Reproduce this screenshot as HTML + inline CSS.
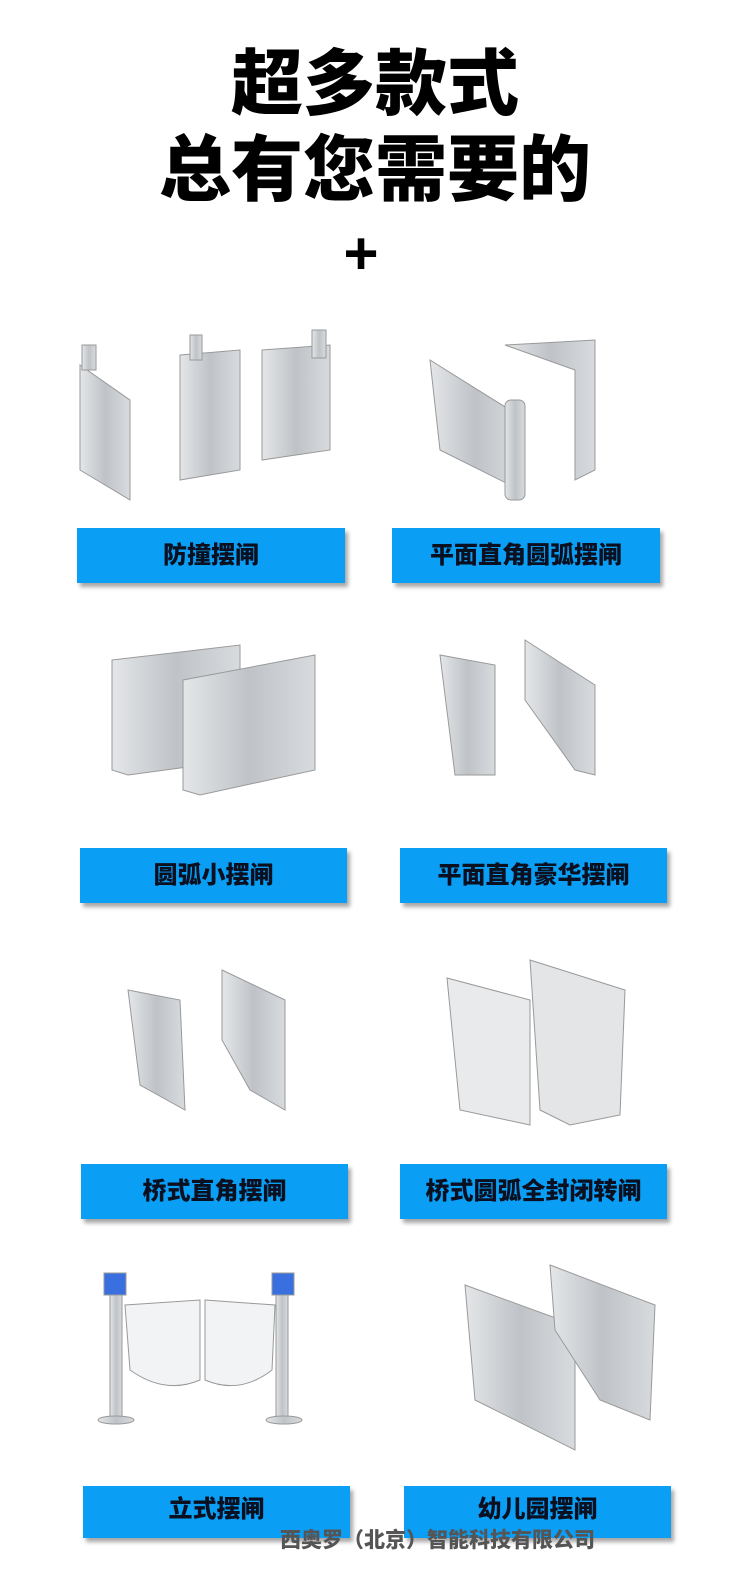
<!DOCTYPE html>
<html><head><meta charset="utf-8"><style>
body{margin:0;width:750px;height:1570px;background:#fff;position:relative;overflow:hidden;font-family:"Liberation Sans","Noto Sans CJK SC",sans-serif}
.t{position:absolute;left:0;width:750px;text-align:center;font-weight:900;color:#000}
.b{position:absolute;height:55px;background:#0a9ef5;box-shadow:3px 4px 4px rgba(0,0,0,.35);font-weight:900;font-size:24px;line-height:55px;text-align:center;color:#0a1020}
.g{position:absolute}
</style></head><body>
<div class="t" style="top:42px;font-size:72px;line-height:86px">超多款式</div>
<div class="t" style="top:128px;font-size:72px;line-height:86px">总有您需要的</div>
<div class="t" style="top:222px;font-size:60px;line-height:64px;left:-14px">+</div>

<svg class="g" style="left:0;top:300px" width="750" height="1200" viewBox="0 300 750 1200">
<defs><linearGradient id="m" x1="0" x2="1"><stop offset="0" stop-color="#e4e6e8"/><stop offset=".5" stop-color="#bfc3c7"/><stop offset="1" stop-color="#d8dbde"/></linearGradient></defs>
<g fill="url(#m)" stroke="#999" stroke-width="1">
<path d="M80 365 L130 400 L130 500 L80 470Z"/><path d="M180 355 L240 350 L240 470 L180 480Z"/><path d="M262 350 L330 345 L330 450 L262 460Z"/>
<rect x="82" y="345" width="14" height="25"/><rect x="190" y="335" width="12" height="25"/><rect x="312" y="330" width="14" height="28"/>
<path d="M430 360 L510 410 L520 490 L440 450Z"/><path d="M505 345 L595 340 L595 470 L575 480 L575 370Z"/><rect x="505" y="400" width="20" height="100" rx="6"/>
<path d="M112 660 L240 645 L240 760 L128 775 L112 770Z"/><path d="M183 680 L315 655 L315 770 L200 795 L183 790Z"/>
<path d="M440 655 L495 665 L495 775 L455 775Z"/><path d="M525 640 L595 685 L595 775 L575 770 L525 700Z"/>
<path d="M128 990 L180 1000 L185 1110 L140 1085Z"/><path d="M222 970 L285 1000 L285 1110 L250 1090 L222 1040Z"/>
<path d="M447 978 L530 1000 L530 1125 L460 1110Z" fill="#e8eaec"/><path d="M530 960 L625 990 L620 1115 L570 1125 L540 1110Z" fill="#e3e5e7"/>
<rect x="110" y="1290" width="12" height="130"/><rect x="276" y="1290" width="12" height="130"/>
<rect x="104" y="1273" width="22" height="22" fill="#3a6fe0"/><rect x="272" y="1273" width="22" height="22" fill="#3a6fe0"/>
<ellipse cx="116" cy="1420" rx="18" ry="4"/><ellipse cx="284" cy="1420" rx="18" ry="4"/>
<path d="M125 1305 L200 1300 L200 1380 Q165 1395 130 1370Z" fill="#f2f3f4"/><path d="M205 1300 L275 1305 L272 1370 Q240 1395 205 1380Z" fill="#f2f3f4"/>
<path d="M465 1285 L575 1325 L575 1450 L475 1400Z"/><path d="M550 1265 L655 1305 L650 1420 L600 1400 L555 1330Z"/>
</g>
</svg>

<div class="b" style="left:77px;top:528px;width:268px">防撞摆闸</div>
<div class="b" style="left:392px;top:528px;width:268px">平面直角圆弧摆闸</div>
<div class="b" style="left:80px;top:848px;width:267px">圆弧小摆闸</div>
<div class="b" style="left:400px;top:848px;width:267px">平面直角豪华摆闸</div>
<div class="b" style="left:81px;top:1164px;width:267px">桥式直角摆闸</div>
<div class="b" style="left:400px;top:1164px;width:267px">桥式圆弧全封闭转闸</div>
<div class="b" style="left:83px;top:1486px;width:267px;height:52px;line-height:48px">立式摆闸</div>
<div class="b" style="left:404px;top:1486px;width:267px;height:52px;line-height:48px">幼儿园摆闸</div>
<div style="position:absolute;left:280px;top:1524px;width:330px;font-size:21px;font-weight:900;color:#555;white-space:nowrap">西奥罗（北京）智能科技有限公司</div>
</body></html>
